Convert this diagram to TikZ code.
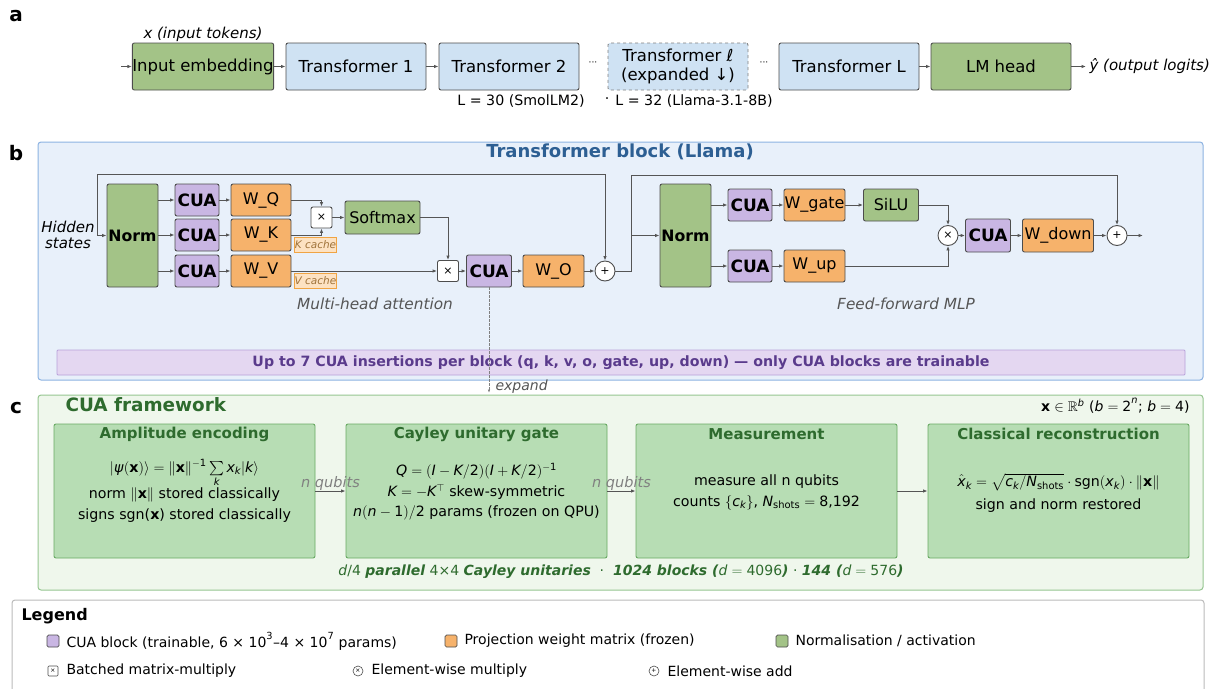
\documentclass[tikz,border=0pt]{standalone}
\usepackage{amsmath,amssymb}
\usepackage{mathspec}
\setmainfont{DejaVu Sans}
\setmathsfont(Digits,Latin,Greek){DejaVu Sans}
\usetikzlibrary{arrows.meta}

\definecolor{linec}{HTML}{555555}
\definecolor{bordc}{HTML}{4D4D4D}
\definecolor{greenf}{HTML}{A3C387}
\definecolor{bluef}{HTML}{CFE2F3}
\definecolor{cuaf}{HTML}{C9B6E3}
\definecolor{orangef}{HTML}{F6B26B}
\definecolor{panelbf}{HTML}{E8F0FA}
\definecolor{panelbd}{HTML}{8DB3E2}
\definecolor{panelcf}{HTML}{EFF7EC}
\definecolor{panelcd}{HTML}{96C691}
\definecolor{stagef}{HTML}{B7DDB4}
\definecolor{staged}{HTML}{6AAA64}
\definecolor{titleb}{HTML}{2D5F93}
\definecolor{titlec}{HTML}{2E6B2E}
\definecolor{bannerf}{HTML}{E4D7F1}
\definecolor{bannerd}{HTML}{B9A1DA}
\definecolor{bannert}{HTML}{5A3B8C}
\definecolor{cachef}{HTML}{FDE2C2}
\definecolor{cached}{HTML}{F0A443}
\definecolor{cachet}{HTML}{A0733A}
\definecolor{notec}{HTML}{555555}
\definecolor{qubitc}{HTML}{808080}
\definecolor{legd}{HTML}{BBBBBB}

\newcommand\fsz[2]{\fontsize{#1}{#2}\selectfont}
% bold upright vector x in the text face
\newcommand\vx{\text{\bfseries x}}

\begin{document}
\begin{tikzpicture}[x=1pt,y=-1pt,
  blk/.style={draw=bordc, line width=0.9pt, rounded corners=2pt, inner sep=0pt, align=center},
  greenbox/.style={blk, fill=greenf},
  bluebox/.style={blk, fill=bluef, font=\fsz{16.5}{19.5}},
  cuabox/.style={blk, fill=cuaf, font=\fsz{17}{20}\bfseries},
  wbox/.style={blk, fill=orangef, font=\fsz{16}{19}},
  mulbox/.style={blk, fill=white, minimum width=21, minimum height=21, font=\fsz{11}{12}},
  opcirc/.style={circle, draw=bordc, line width=0.9pt, fill=white, minimum size=20, inner sep=0pt, font=\fsz{11}{12}},
  cachetag/.style={draw=cached, fill=cachef, line width=0.8pt, minimum width=41, minimum height=15, inner sep=0pt, font=\fsz{10.5}{12}\itshape, text=cachet},
  stage/.style={draw=staged, fill=stagef, line width=0.9pt, rounded corners=2pt, minimum width=261, minimum height=134},
  stagetitle/.style={font=\fsz{15}{18}\bfseries, text=titlec},
  stagebody/.style={font=\fsz{14.2}{20.5}, align=center},
  wire/.style={draw=linec, line width=0.9pt, -{Latex[length=4.5pt,width=3.5pt]}},
  line/.style={draw=linec, line width=0.9pt},
  note/.style={font=\fsz{15.3}{18}\itshape, text=notec},
  panellabel/.style={font=\fsz{20}{24}\bfseries},
  legtext/.style={anchor=west, font=\fsz{14}{16}}
]
\useasboundingbox[fill=white] (0,0) rectangle (1220,688);

% ---------- panel a : model overview ----------
\node[panellabel] (la) at (16,16) {a};
\node[greenbox, minimum width=140, minimum height=47, font=\fsz{16.5}{19.5}] (emb) at (203,66.5) {Input embedding};
\node[bluebox, minimum width=140, minimum height=47] (t1) at (356,66.5) {Transformer 1};
\node[bluebox, minimum width=140, minimum height=47] (t2) at (509,66.5) {Transformer 2};
\node[bluebox, dashed, draw=qubitc, minimum width=140, minimum height=47, font=\fsz{16.5}{19.5}] (tl) at (678,66.5) {Transformer ℓ\\(expanded ↓)};
\node[bluebox, minimum width=140, minimum height=47] (tL) at (849,66.5) {Transformer L};
\node[greenbox, minimum width=140, minimum height=47, font=\fsz{16.5}{19.5}] (lm) at (1001,66.5) {LM head};
\node[font=\fsz{9}{10}] (d1) at (593,64) {···};
\node[font=\fsz{9}{10}] (d2) at (764,64) {···};
\node[font=\fsz{15}{18}\itshape] (xin) at (203,34) {x (input tokens)};
\node[anchor=west, font=\fsz{15}{18}\itshape] (yout) at (1086,66.5) {ŷ (output logits)};
\node[font=\fsz{14.2}{16}] (lsmol) at (521,101) {L = 30 (SmolLM2)};
\node[font=\fsz{14.2}{16}] (ldot) at (607,101) {·};
\node[font=\fsz{14.2}{16}] (lllama) at (694,101) {L = 32 (Llama-3.1-8B)};
\coordinate (ain) at (121,66.5);
\draw[wire] (ain) -- (emb.west);
\draw[wire] (emb) -- (t1);
\draw[wire] (t1) -- (t2);
\draw[wire] (tL) -- (lm);
\draw[wire] (lm) -- (yout.west);

% ---------- panel b : transformer block ----------
\node[panellabel] (lb) at (16,153) {b};
\draw[draw=panelbd, fill=panelbf, line width=1pt, rounded corners=3pt] (38,142) rectangle (1203,380);
\node[font=\fsz{18}{21}\bfseries, text=titleb] (tb) at (620,152) {Transformer block (Llama)};

% attention half
\node[font=\fsz{15}{16.5}\itshape, align=center] (hs) at (68,235) {Hidden\\states};
\node[greenbox, minimum width=51, minimum height=103, font=\fsz{15.7}{18}\bfseries] (n1) at (132.5,235.5) {Norm};
\node[cuabox, minimum width=44, minimum height=32] (cq) at (197,200) {CUA};
\node[cuabox, minimum width=44, minimum height=32] (ck) at (197,235) {CUA};
\node[cuabox, minimum width=44, minimum height=32] (cv) at (197,271) {CUA};
\node[wbox, minimum width=60, minimum height=32] (wq) at (261,200) {W\_Q};
\node[wbox, minimum width=60, minimum height=32] (wk) at (261,235) {W\_K};
\node[wbox, minimum width=60, minimum height=32] (wv) at (261,271) {W\_V};
\node[mulbox] (m1) at (321.5,217.5) {×};
\node[greenbox, minimum width=75, minimum height=33, font=\fsz{16}{19}] (sm) at (382.5,217.5) {Softmax};
\node[cachetag] (kc) at (315.5,244.5) {K cache};
\node[cachetag] (vc) at (315.5,280.5) {V cache};
\node[mulbox] (m2) at (448,271) {×};
\node[cuabox, minimum width=45, minimum height=32] (co) at (489,271) {CUA};
\node[wbox, minimum width=61, minimum height=32] (wo) at (553.5,271) {W\_O};
\node[opcirc] (a1) at (605,271) {+};
\node[note] (mha) at (375,304) {Multi-head attention};

\coordinate (hin) at (97,235.5);
\coordinate (sk1) at (97,174);
\draw[wire] (hin) -- (n1.west);
\draw[wire] (hin) -- (sk1) -| (a1.north);
\draw[wire] (n1.east |- cq.west) -- (cq.west);
\draw[wire] (n1.east |- ck.west) -- (ck.west);
\draw[wire] (n1.east |- cv.west) -- (cv.west);
\draw[wire] (cq) -- (wq);
\draw[wire] (ck) -- (wk);
\draw[wire] (cv) -- (wv);
\draw[wire] (wq.east) -| (m1.north);
\draw[wire] (wk.east) -| (m1.south);
\draw[wire] (m1) -- (sm);
\draw[wire] (sm.east) -| (m2.north);
\draw[wire] (wv) -- (m2);
\draw[wire] (m2) -- (co);
\draw[wire] (co) -- (wo);
\draw[wire] (wo) -- (a1);

% feed-forward half
\node[greenbox, minimum width=51, minimum height=103, font=\fsz{15.7}{18}\bfseries] (n2) at (685.5,235.5) {Norm};
\node[cuabox, minimum width=44, minimum height=32] (cg) at (750,205) {CUA};
\node[wbox, minimum width=61, minimum height=32] (wg) at (814.5,205) {W\_gate};
\node[greenbox, minimum width=55, minimum height=32, font=\fsz{16}{19}] (silu) at (891,205) {SiLU};
\node[cuabox, minimum width=44, minimum height=32] (cu) at (750,266) {CUA};
\node[wbox, minimum width=61, minimum height=32] (wu) at (814.5,266) {W\_up};
\node[opcirc] (m3) at (948,235.5) {×};
\node[cuabox, minimum width=45, minimum height=33] (cd) at (988,235.5) {CUA};
\node[wbox, minimum width=71, minimum height=33] (wd) at (1058,235.5) {W\_down};
\node[opcirc] (a2) at (1117,235.5) {+};
\node[note] (ffn) at (906,304) {Feed-forward MLP};
\coordinate (r1) at (631,271);
\coordinate (r2) at (631,175);
\coordinate (bout) at (1143,235.5);
\draw[line] (a1.east) -- (r1) -- (r2);
\draw[wire] (r2) -| (a2.north);
\draw[wire] (n2.west -| r1) -- (n2.west);
\draw[wire] (n2.east |- cg.west) -- (cg.west);
\draw[wire] (n2.east |- cu.west) -- (cu.west);
\draw[wire] (cg) -- (wg);
\draw[wire] (wg) -- (silu);
\draw[wire] (cu) -- (wu);
\draw[wire] (silu.east) -| (m3.north);
\draw[wire] (wu.east) -| (m3.south);
\draw[wire] (m3) -- (cd);
\draw[wire] (cd) -- (wd);
\draw[wire] (wd) -- (a2);
\draw[wire] (a2) -- (bout);

% banner
\node[draw=bannerd, fill=bannerf, line width=0.9pt, rounded corners=1pt, minimum width=1128, minimum height=25, inner sep=0pt, font=\fsz{14.2}{16}\bfseries, text=bannert] (ban) at (621,362.5) {Up to 7 CUA insertions per block (q, k, v, o, gate, up, down) — only CUA blocks are trainable};

% link down to the CUA framework
\coordinate (ex) at (489,393);
\draw[draw=qubitc, line width=0.7pt, dash pattern=on 2.5pt off 1.5pt, -{Latex[length=3.5pt,width=2.5pt]}] (co.south) -- (ex);
\node[anchor=west, font=\fsz{14}{16}\itshape, text=notec] (exl) at (492,387) {expand};

% ---------- panel c : CUA framework ----------
\node[panellabel] (lc) at (16,408) {c};
\draw[draw=panelcd, fill=panelcf, line width=1pt, rounded corners=3pt] (38,395) rectangle (1203,590);
\node[anchor=west, font=\fsz{18.4}{21}\bfseries, text=titlec] (tc) at (62,405) {CUA framework};
\node[anchor=east, font=\fsz{14}{16}] (dom) at (1193,406) {$\vx\in\mathbb{R}^b$ ($b=2^n$; $b=4$)};

\node[stage] (amp) at (184.5,491) {};
\node[stage] (cay) at (476.5,491) {};
\node[stage] (mea) at (766.5,491) {};
\node[stage] (cls) at (1058.5,491) {};
\node[stagetitle] (ampt) at (184.5,434) {Amplitude encoding};
\node[stagetitle] (cayt) at (476.5,434) {Cayley unitary gate};
\node[stagetitle] (meat) at (766.5,434) {Measurement};
\node[stagetitle] (clst) at (1058.5,434) {Classical reconstruction};
\node[stagebody] (ampb) at (184.5,491) {$|\psi(\vx)\rangle=\|\vx\|^{-1}\sum\limits_k x_k|k\rangle$\\norm $\|\vx\|$ stored classically\\signs sgn($\vx$) stored classically};
\node[stagebody] (cayb) at (476.5,492) {$Q=(I-K/2)(I+K/2)^{-1}$\\$K=-K^{\top}$ skew-symmetric\\$n(n-1)/2$ params (frozen on QPU)};
\node[stagebody] (meab) at (766.5,492.5) {measure all n qubits\\counts $\{c_k\}$, $N_{\text{shots}}=\text{8,192}$};
\node[stagebody] (clsb) at (1058.5,493) {$\hat{x}_k=\sqrt{c_k/N_{\text{shots}}}\cdot\text{sgn}(x_k)\cdot\|\vx\|$\\[3pt]sign and norm restored};
\draw[wire] (amp) -- (cay) node[midway, yshift=8pt, font=\fsz{14.5}{16}\itshape, text=qubitc] (q1) {n qubits};
\draw[wire] (cay) -- (mea) node[midway, yshift=8pt, font=\fsz{14.5}{16}\itshape, text=qubitc] (q2) {n qubits};
\draw[wire] (mea) -- (cls);
\node[font=\fsz{14}{17}, text=titlec] (par) at (621,572) {$d$/4 \textbf{\textit{parallel}} 4×4 \textbf{\textit{Cayley unitaries}} ~·~ \textbf{\textit{1024 blocks (}}$d=4096$\textbf{\textit{)}} · \textbf{\textit{144 (}}$d=576$\textbf{\textit{)}}};

% ---------- legend ----------
\draw[draw=legd, fill=white, line width=1pt, rounded corners=3pt] (12,600) rectangle (1204,700);
\node[anchor=west, font=\fsz{16}{18}\bfseries] (lgt) at (18,616) {Legend};
\node[draw=bordc, fill=cuaf, line width=0.7pt, rounded corners=1.5pt, minimum size=12, inner sep=0pt] (lg1) at (53,641) {};
\node[legtext] (lt1) at (63,641) {CUA block (trainable, 6 × 10\textsuperscript{3}–4 × 10\textsuperscript{7} params)};
\node[draw=bordc, fill=orangef, line width=0.7pt, rounded corners=1.5pt, minimum size=12, inner sep=0pt] (lg2) at (451,641) {};
\node[legtext] (lt2) at (461,641) {Projection weight matrix (frozen)};
\node[draw=bordc, fill=greenf, line width=0.7pt, rounded corners=1.5pt, minimum size=12, inner sep=0pt] (lg3) at (782,641) {};
\node[legtext] (lt3) at (792,641) {Normalisation / activation};
\node[draw=bordc, fill=white, line width=0.6pt, rounded corners=1pt, minimum size=10, inner sep=0pt, font=\fsz{6}{7}] (lg4) at (53,671) {×};
\node[legtext] (lt4) at (63,671) {Batched matrix-multiply};
\node[circle, draw=bordc, fill=white, line width=0.6pt, minimum size=10, inner sep=0pt, font=\fsz{6}{7}] (lg5) at (358,671) {×};
\node[legtext] (lt5) at (368,671) {Element-wise multiply};
\node[circle, draw=bordc, fill=white, line width=0.6pt, minimum size=10, inner sep=0pt, font=\fsz{6}{7}] (lg6) at (654,671) {+};
\node[legtext] (lt6) at (664,671) {Element-wise add};
\end{tikzpicture}
\end{document}
